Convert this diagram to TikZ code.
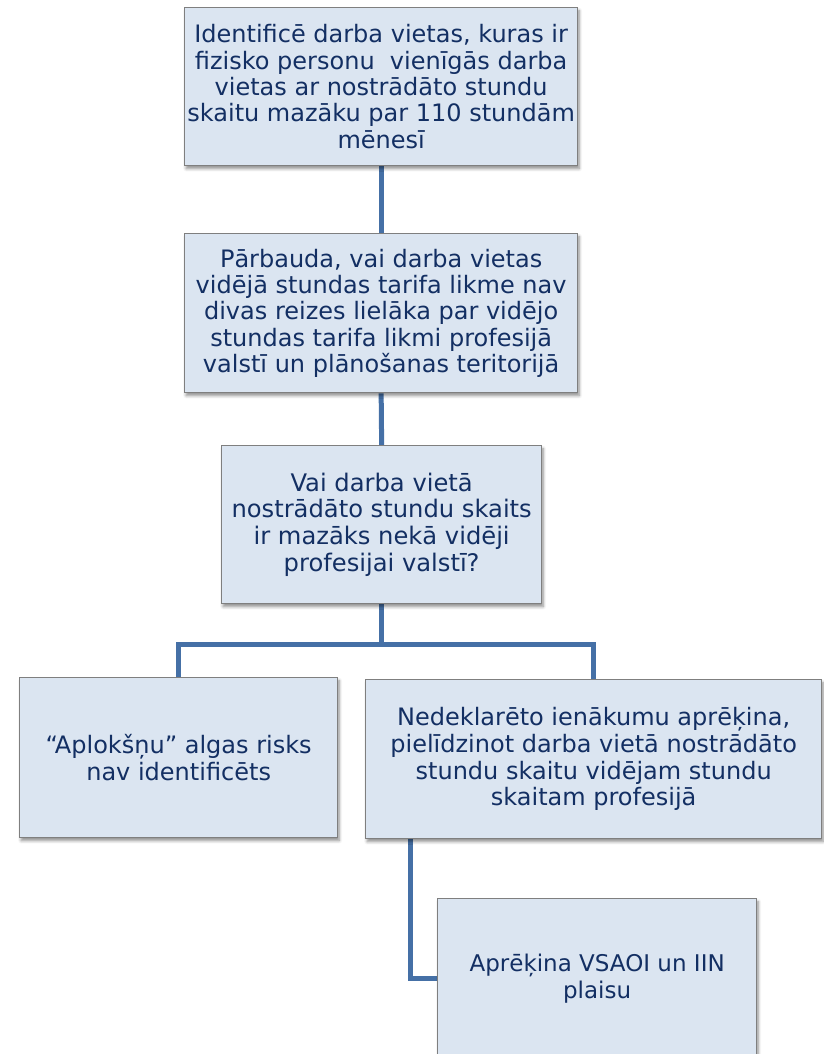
\documentclass[tikz,border=0pt]{standalone}
\usepackage{fontspec}
\setmainfont{DejaVu Sans}
\usetikzlibrary{shadows.blur,backgrounds,calc}
\definecolor{boxfill}{HTML}{DBE5F1}
\definecolor{boxline}{HTML}{7F7F7F}
\definecolor{txtcol}{HTML}{132F63}
\definecolor{conn}{HTML}{4570A6}
\tikzset{
  flowbox/.style={draw=boxline, line width=1.3pt, fill=boxfill, text=txtcol,
    align=center, inner sep=2pt, anchor=north west,
    blur shadow={shadow xshift=1.5pt, shadow yshift=-3pt, shadow blur steps=6, shadow blur radius=3pt, shadow opacity=45}},
  fsA/.style={font=\fontsize{24}{26.3}\selectfont},
  fsB/.style={font=\fontsize{24.2}{26.7}\selectfont},
  fsC/.style={font=\fontsize{24}{26.7}\selectfont},
  fsD/.style={font=\fontsize{23}{26.7}\selectfont},
  link/.style={draw=conn, line width=5pt, line join=miter}
}
\begin{document}
\begin{tikzpicture}
\useasboundingbox (0pt,0pt) rectangle (823pt,-1054pt);
\node[flowbox, fsA, minimum width=393pt, minimum height=158pt] (b1) at (184pt,-7pt)
  {Identificē darba vietas, kuras ir\\fizisko personu\ \ vienīgās darba\\vietas ar nostrādāto stundu\\skaitu mazāku par 110 stundām\\mēnesī};
\node[flowbox, fsA, minimum width=393pt, minimum height=159pt] (b2) at (184pt,-233pt)
  {Pārbauda, vai darba vietas\\vidējā stundas tarifa likme nav\\divas reizes lielāka par vidējo\\stundas tarifa likmi profesijā\\valstī un plānošanas teritorijā};
\node[flowbox, fsB, minimum width=320pt, minimum height=158pt] (b3) at (221pt,-445pt)
  {Vai darba vietā\\nostrādāto stundu skaits\\ir mazāks nekā vidēji\\profesijai valstī?};
\node[flowbox, fsC, minimum width=318pt, minimum height=160pt] (b4) at (19pt,-677pt)
  {“Aplokšņu” algas risks\\nav identificēts};
\node[flowbox, fsC, minimum width=456pt, minimum height=159pt] (b5) at (365pt,-679pt)
  {Nedeklarēto ienākumu aprēķina,\\pielīdzinot darba vietā nostrādāto\\stundu skaitu vidējam stundu\\skaitam profesijā};
\node[flowbox, fsD, minimum width=319pt, minimum height=160pt] (b6) at (437pt,-898pt)
  {Aprēķina VSAOI un IIN\\plaisu};
\coordinate (j) at ($(b3.south)+(0pt,-40pt)$);
\coordinate (s5) at ($(b5.south west)+(45pt,0pt)$);
\begin{scope}[on background layer]
  \draw[link] (b1.south) -- (b2.north);
  \draw[link] (b2.south) -- (b3.north);
  \draw[link] (b3.south) -- (j) -| (b4.north);
  \draw[link] (j) -| (b5.north);
  \draw[link] (s5) |- (b6.west);
\end{scope}
\end{tikzpicture}
\end{document}
